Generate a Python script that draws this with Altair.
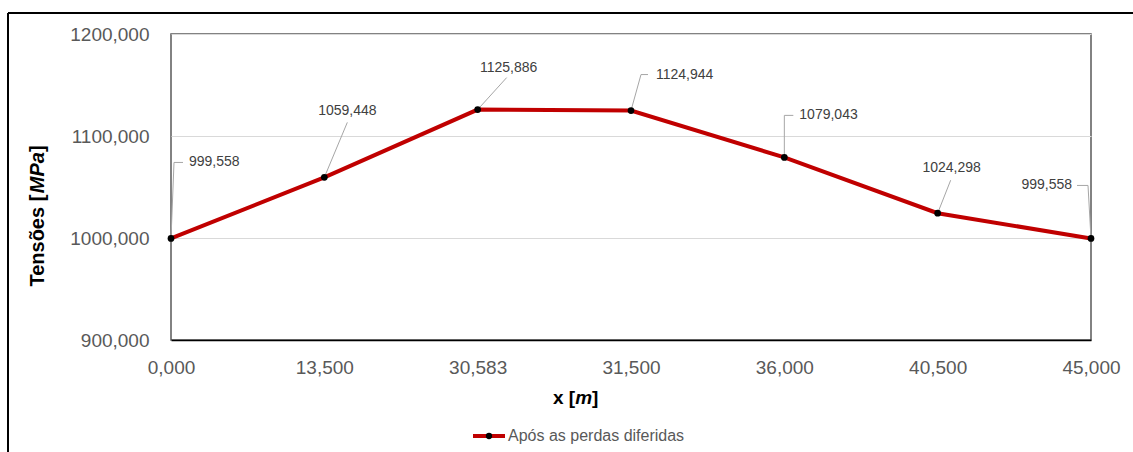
import altair as alt
import pandas as pd

# Stress along the tendon after deferred losses
x_labels = ["0,000", "13,500", "30,583", "31,500", "36,000", "40,500", "45,000"]
tensoes = [999.558, 1059.448, 1125.886, 1124.944, 1079.043, 1024.298, 999.558]
y_ticks = [900, 1000, 1100, 1200]
serie = "Após as perdas diferidas"

df = pd.DataFrame({"idx": list(range(len(x_labels))), "y": tensoes})

W, H = 920, 306
RED = "#C00000"
GRAY = "#595959"
LBL_FONT = "Liberation Sans, Arial, sans-serif"
TTL_FONT = "Liberation Sans, Arial, sans-serif"

label_expr = "[" + ",".join("'%s'" % s for s in x_labels) + "][datum.value]"

x_enc = alt.X(
    "idx:Q",
    scale=alt.Scale(domain=[0, len(x_labels) - 1], nice=False, zero=False),
    axis=alt.Axis(
        values=list(range(len(x_labels))), labelExpr=label_expr, title=None,
        grid=False, ticks=False, labelFlush=False, labelOverlap=False,
        labelPadding=18, labelFontSize=19, labelFont=LBL_FONT, labelColor=GRAY,
        domainColor="#000000", domainWidth=1.5,
    ),
)
y_enc = alt.Y(
    "y:Q",
    scale=alt.Scale(domain=[900, 1200], nice=False, zero=False),
    axis=alt.Axis(
        values=y_ticks, title=None, ticks=False, domain=False,
        labelExpr="replace(format(datum.value, '.3f'), '.', ',')",
        labelPadding=22, labelFontSize=19, labelFont=LBL_FONT, labelColor=GRAY,
        gridColor="#d9d9d9", gridWidth=1,
    ),
)

base = alt.Chart(df)

line = base.mark_line(color=RED, strokeWidth=4).encode(x=x_enc, y=y_enc)
dots = base.mark_circle(color="#000000", size=45, opacity=1).encode(x="idx:Q", y="y:Q")

# data-label placement: text offset, alignment and leader path (pixels from the point)
annot = [
    (18, -76, "left", [(0, 0), (3, -76), (12, -76)]),
    (23, -66, "center", [(0, 0), (23, -55)]),
    (31, -42, "center", [(0, 0), (29, -32)]),
    (25, -36, "left", [(0, 0), (10, -36), (17, -36)]),
    (15, -42, "left", [(0, 0), (0, -42), (9, -42)]),
    (14, -45, "center", [(0, 0), (13, -33)]),
    (-19, -53, "right", [(0, 0), (-3, -53), (-14, -53)]),
]

layers = [line]
for i, (dx, dy, align, path) in enumerate(annot):
    sub = base.transform_filter(alt.datum.idx == i)
    for (ax, ay), (bx, by) in zip(path[:-1], path[1:]):
        layers.append(
            sub.mark_rule(color="#a6a6a6", strokeWidth=1,
                          xOffset=ax, yOffset=ay, x2Offset=bx, y2Offset=by)
            .encode(x="idx:Q", x2="idx", y="y:Q", y2="y")
        )
    layers.append(
        sub.transform_calculate(lbl="replace(format(datum.y, '.3f'), '.', ',')")
        .mark_text(dx=dx, dy=dy, align=align, baseline="middle",
                   font=LBL_FONT, fontSize=14, color="#404040")
        .encode(x="idx:Q", y="y:Q", text="lbl:N")
    )
layers.append(dots)

one = pd.DataFrame({"k": [0]})


def txt(s, x, y, italic=False, angle=0, size=19, align="left"):
    return alt.Chart(one).mark_text(
        text=s, align=align, baseline="middle", angle=angle, font=TTL_FONT,
        fontSize=size, fontWeight="bold", fontStyle="italic" if italic else "normal",
        color="#000000",
    ).encode(x=alt.value(x), y=alt.value(y))


# y-axis title (rotated), with the unit in italics
YS = 20
w1, w2 = 4.668 * YS, 2.056 * YS
y0 = 182 + (w1 + w2 + 0.333 * YS) / 2
layers += [
    txt("Tensões [", -133, y0, angle=270, size=YS),
    txt("MPa", -133, y0 - w1, italic=True, angle=270, size=YS),
    txt("]", -133, y0 - w1 - w2, angle=270, size=YS),
]
# x-axis title
layers += [
    txt("x [", 382, 364),
    txt("m", 404.2, 364, italic=True),
    txt("]", 421.1, 364),
]

# legend
layers += [
    alt.Chart(one).mark_rule(color=RED, strokeWidth=4).encode(
        x=alt.value(302), x2=alt.value(334), y=alt.value(402), y2=alt.value(402)),
    alt.Chart(one).mark_circle(color="#000000", size=40, opacity=1).encode(
        x=alt.value(318), y=alt.value(402)),
    alt.Chart(one).mark_text(text=serie, align="left", baseline="middle",
                             font=LBL_FONT, fontSize=16, color=GRAY).encode(
        x=alt.value(337), y=alt.value(402)),
]

# outer frame (top and left edges)
layers += [
    alt.Chart(one).mark_rule(color="#000000", strokeWidth=2).encode(
        x=alt.value(-163), x2=alt.value(W + 60), y=alt.value(-21), y2=alt.value(-21)),
    alt.Chart(one).mark_rule(color="#000000", strokeWidth=2).encode(
        x=alt.value(-163), x2=alt.value(-163), y=alt.value(-21), y2=alt.value(H + 130)),
]

chart = alt.layer(*layers).properties(
    width=W, height=H,
    autosize=alt.AutoSizeParams(type="none"),
    padding={"left": 171, "top": 34, "right": 42, "bottom": 112},
).configure_view(stroke=GRAY, strokeWidth=1.5)

chart.save("out.html", embed_options={"renderer": "svg", "actions": False})
